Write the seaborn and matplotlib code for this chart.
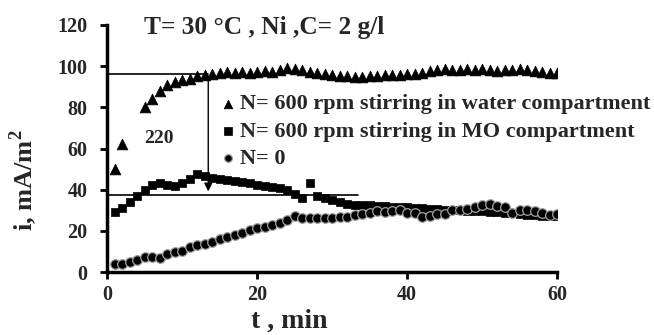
import numpy as np
import pandas as pd
import matplotlib
matplotlib.use("Agg")
import matplotlib.pyplot as plt
import seaborn as sns

# ---- data ----
t_water = [1, 2, 5, 6, 7, 8, 9, 10, 11, 12, 13, 14, 15, 16, 17, 18, 19, 20, 21, 22,
           23, 24, 25, 26, 27, 28, 29, 30, 31, 32, 33, 34, 35, 36, 37, 38, 39, 40,
           41, 42, 43, 44, 45, 46, 47, 48, 49, 50, 51, 52, 53, 54, 55, 56, 57, 58, 59, 60]
i_water = [50, 62, 80, 84, 88, 91, 92.5, 93.5, 94, 95, 95.5, 96, 96.5, 97, 96.5, 97, 96.5, 97, 97.5, 97,
           98, 99, 98.5, 98, 97, 96.5, 96, 95.5, 95, 95, 94.5, 94.5, 95, 95, 95.5, 95.5, 95.5, 96,
           96, 96.5, 97.5, 98, 98.5, 98, 98, 98.5, 98, 98.5, 98, 97.5, 98, 98, 98.5, 98, 97.5, 97, 96.5, 96.5]

t_mo = list(range(1, 61))
i_mo = [29, 31, 34, 37, 40, 42.5, 43, 42.5, 42, 43, 45, 47.5, 46.5, 45.5, 45, 44.5, 44, 43.5, 43, 42.5,
        42, 41.5, 41, 40, 38, 36, 43, 37, 36, 35, 34, 33, 32.5, 32.5, 32.5, 32, 32, 31.5, 31.5, 31.5,
        31, 31, 30.5, 30.5, 30, 30, 30, 29.5, 29.5, 29.5, 29, 29, 28.5, 28.5, 28, 27.5, 27.5, 27, 27, 27]

t_zero = list(range(1, 61))
i_zero = [3.9, 3.9, 5.0, 5.8, 7.1, 7.1, 6.6, 8.7, 9.9, 10.4, 12.0, 13.1, 13.6, 14.7, 15.9, 16.8, 18.0, 19.1, 20.4, 21.2,
          22.0, 22.8, 24.0, 25.3, 27.2, 26.1, 26.1, 26.1, 26.1, 26.1, 26.6, 26.9, 27.7, 28.2, 28.5, 29.5, 29.3, 29.8, 30.1, 28.8,
          28.5, 26.9, 27.2, 28.2, 28.2, 30.1, 30.1, 30.4, 31.7, 32.5, 32.9, 32.1, 31.4, 28.8, 30.1, 30.1, 29.8, 28.5, 27.7, 28.2]

labels = ["N= 600 rpm stirring in water compartment",
          "N= 600 rpm stirring in MO compartment",
          "N= 0"]
title_text = "T= 30 °C , Ni ,C= 2 g/l"
x_ticks = [0, 20, 40, 60]
y_ticks = [0, 20, 40, 60, 80, 100, 120]

sns.set_theme(style="white")
plt.rcParams['font.family'] = ['Liberation Serif', 'DejaVu Serif']
plt.rcParams['font.weight'] = 'bold'
plt.rcParams['mathtext.fontset'] = 'custom'
plt.rcParams['mathtext.bf'] = 'Liberation Serif:bold'
plt.rcParams['mathtext.rm'] = 'Liberation Serif:bold'

fig = plt.figure(figsize=(6.54, 3.35), dpi=100)
ax = fig.add_axes([107/654, 1-272/335, (557-107)/654, (272-25)/335])

df_w = pd.DataFrame({"t": t_water, "i": i_water})
df_m = pd.DataFrame({"t": t_mo, "i": i_mo})
df_z = pd.DataFrame({"t": t_zero, "i": i_zero})

sns.scatterplot(data=df_w, x="t", y="i", marker="^", s=60, color="black", edgecolor="black",
                linewidth=0.5, ax=ax, label=labels[0], zorder=3)
sns.scatterplot(data=df_m, x="t", y="i", marker="s", s=40, color="black", edgecolor="black",
                linewidth=0.5, ax=ax, label=labels[1], zorder=3)
sns.scatterplot(data=df_z, x="t", y="i", marker="o", s=48, color="black", edgecolor="#a0a0a0",
                linewidth=0.9, ax=ax, label=labels[2], zorder=4)

# reference lines and arrow
ax.plot([0, 13.5], [96, 96], color="black", lw=1.2, zorder=2)
ax.plot([0, 33.5], [37.5, 37.5], color="black", lw=1.2, zorder=2)
ax.annotate("", xy=(13.5, 37.8), xytext=(13.5, 96),
            arrowprops=dict(arrowstyle="-|>", color="black", lw=1.0, mutation_scale=12))
ax.text(4.9, 65, "220", fontsize=14, fontweight="bold", ha="left", va="center")
ax.text(5.0, 118.8, title_text, fontsize=18.3, fontweight="bold", ha="left", va="center")

ax.set_xlim(0, 60)
ax.set_ylim(0, 120)
ax.set_xticks(x_ticks)
ax.set_yticks(y_ticks)
ax.set_xlabel("t , min", fontsize=20, fontweight="bold")
ax.set_ylabel("i, mA/m$^\\mathbf{2}$", fontsize=19, fontweight="bold")
ax.xaxis.set_label_coords(0.404, -0.15)
ax.yaxis.set_label_coords(-0.15, 0.37)
ax.tick_params(axis="both", which="major", direction="out", length=5, width=2,
               labelsize=14.5, color="black", bottom=True, left=True)
ax.tick_params(axis="y", pad=9)
ax.tick_params(axis="x", pad=4)
for lab in ax.get_xticklabels() + ax.get_yticklabels():
    lab.set_fontweight("bold")
for side in ["top", "right"]:
    ax.spines[side].set_visible(False)
for side in ["left", "bottom"]:
    ax.spines[side].set_linewidth(2.5)
    ax.spines[side].set_color("black")

leg = ax.legend(loc="upper left", bbox_to_anchor=((208 - 107) / 450, 1 - (85 - 25) / 247),
                frameon=False, fontsize=16, handletextpad=0.05, labelspacing=0.3,
                borderaxespad=0, handlelength=1.0, markerscale=0.8)
for txt in leg.get_texts():
    txt.set_fontweight("bold")

fig.savefig("out.png", dpi=100)
